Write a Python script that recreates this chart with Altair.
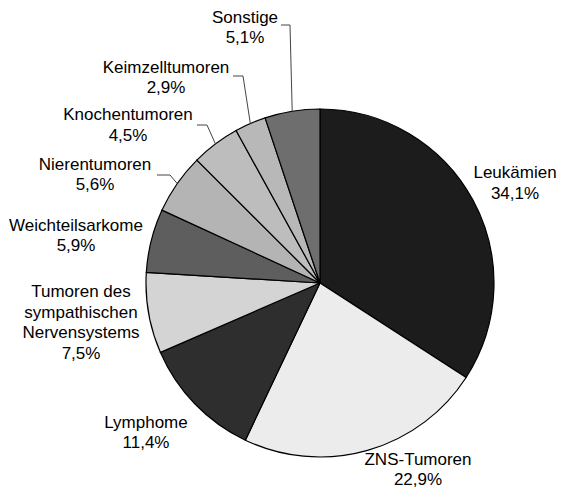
import math
import altair as alt
import pandas as pd

# ---- data ----
categories = ["Leukämien", "ZNS-Tumoren", "Lymphome",
              "Tumoren des sympathischen Nervensystems", "Weichteilsarkome",
              "Nierentumoren", "Knochentumoren", "Keimzelltumoren", "Sonstige"]
label_lines = [["Leukämien"], ["ZNS-Tumoren"], ["Lymphome"],
               ["Tumoren des", "sympathischen", "Nervensystems"],
               ["Weichteilsarkome"], ["Nierentumoren"], ["Knochentumoren"],
               ["Keimzelltumoren"], ["Sonstige"]]
percents = [34.1, 22.9, 11.4, 7.5, 5.9, 5.6, 4.5, 2.9, 5.1]

# ---- styles / layout ----
fills = ["#1c1c1c", "#ececec", "#2e2e2e", "#d4d4d4", "#5e5e5e",
         "#b4b4b4", "#bdbdbd", "#b8b8b8", "#6e6e6e"]
CX, CY, R = 312, 275, 174
# label anchor (centre x, first baseline) relative to pie centre
label_offsets = [(195, -105), (98, 182), (-174, 145), (-239, 14), (-244, -52),
                 (-225, -113), (-192, -163), (-154, -210), (-75, -260)]
line_heights = [21, 20, 20, 20.5, 20, 20, 21, 20, 20]
# leader lines: (category, elbow offset, end offset)
leaders = [("Sonstige", (-30, -258), (-39, -258)),
           ("Keimzelltumoren", (-77, -207), (-87, -207)),
           ("Knochentumoren", (-113, -158), (-123, -158)),
           ("Nierentumoren", (-150, -108), (-163, -108))]

total = sum(percents)
df = pd.DataFrame({"cat": categories, "value": percents, "idx": list(range(len(categories)))})

lab_rows = []
for i, c in enumerate(categories):
    dx, dy = label_offsets[i]
    pct = f"{percents[i]:.1f}".replace(".", ",") + "%"
    lines_i = label_lines[i] + [pct]
    for j, t in enumerate(lines_i):
        lab_rows.append({"cat": c, "t": t, "lx": CX + dx,
                         "ly": CY + dy + j * line_heights[i]})
lab_df = pd.DataFrame(lab_rows)

# slice mid angles from data
mids = {}
cum = 0.0
for c, v in zip(categories, percents):
    mids[c] = (cum + v / 2) / total * 2 * math.pi
    cum += v

lead_rows = []
for c, elbow, end in leaders:
    a = mids[c]
    pts = [(CX + R * math.sin(a), CY - R * math.cos(a)),
           (CX + elbow[0], CY + elbow[1]),
           (CX + end[0], CY + end[1])]
    for k, (px, py) in enumerate(pts):
        lead_rows.append({"cat": c, "k": k, "px": px, "py": py})
lead_df = pd.DataFrame(lead_rows)

pie = alt.Chart(df).mark_arc(outerRadius=R, stroke="black", strokeWidth=1.2).encode(
    theta=alt.Theta("value:Q", stack=True),
    color=alt.Color("cat:N", scale=alt.Scale(domain=categories, range=fills), legend=None),
    order=alt.Order("idx:Q"),
    x=alt.value(CX), y=alt.value(CY),
)

labels = alt.Chart(lab_df).mark_text(
    align="center", baseline="alphabetic", fontSize=17,
    font="Liberation Sans", color="black"
).encode(
    x=alt.X("lx:Q", scale=None),
    y=alt.Y("ly:Q", scale=None),
    text="t:N",
)

lines = alt.Chart(lead_df).mark_line(color="#444444", strokeWidth=1).encode(
    x=alt.X("px:Q", scale=None),
    y=alt.Y("py:Q", scale=None),
    detail="cat:N",
    order="k:Q",
)

chart = alt.layer(pie, lines, labels).properties(
    width=549, height=482, padding=0,
    autosize=alt.AutoSizeParams(type="none"),
).configure_view(stroke=None)

chart.save("out.html", embed_options={"renderer": "svg", "actions": False})
